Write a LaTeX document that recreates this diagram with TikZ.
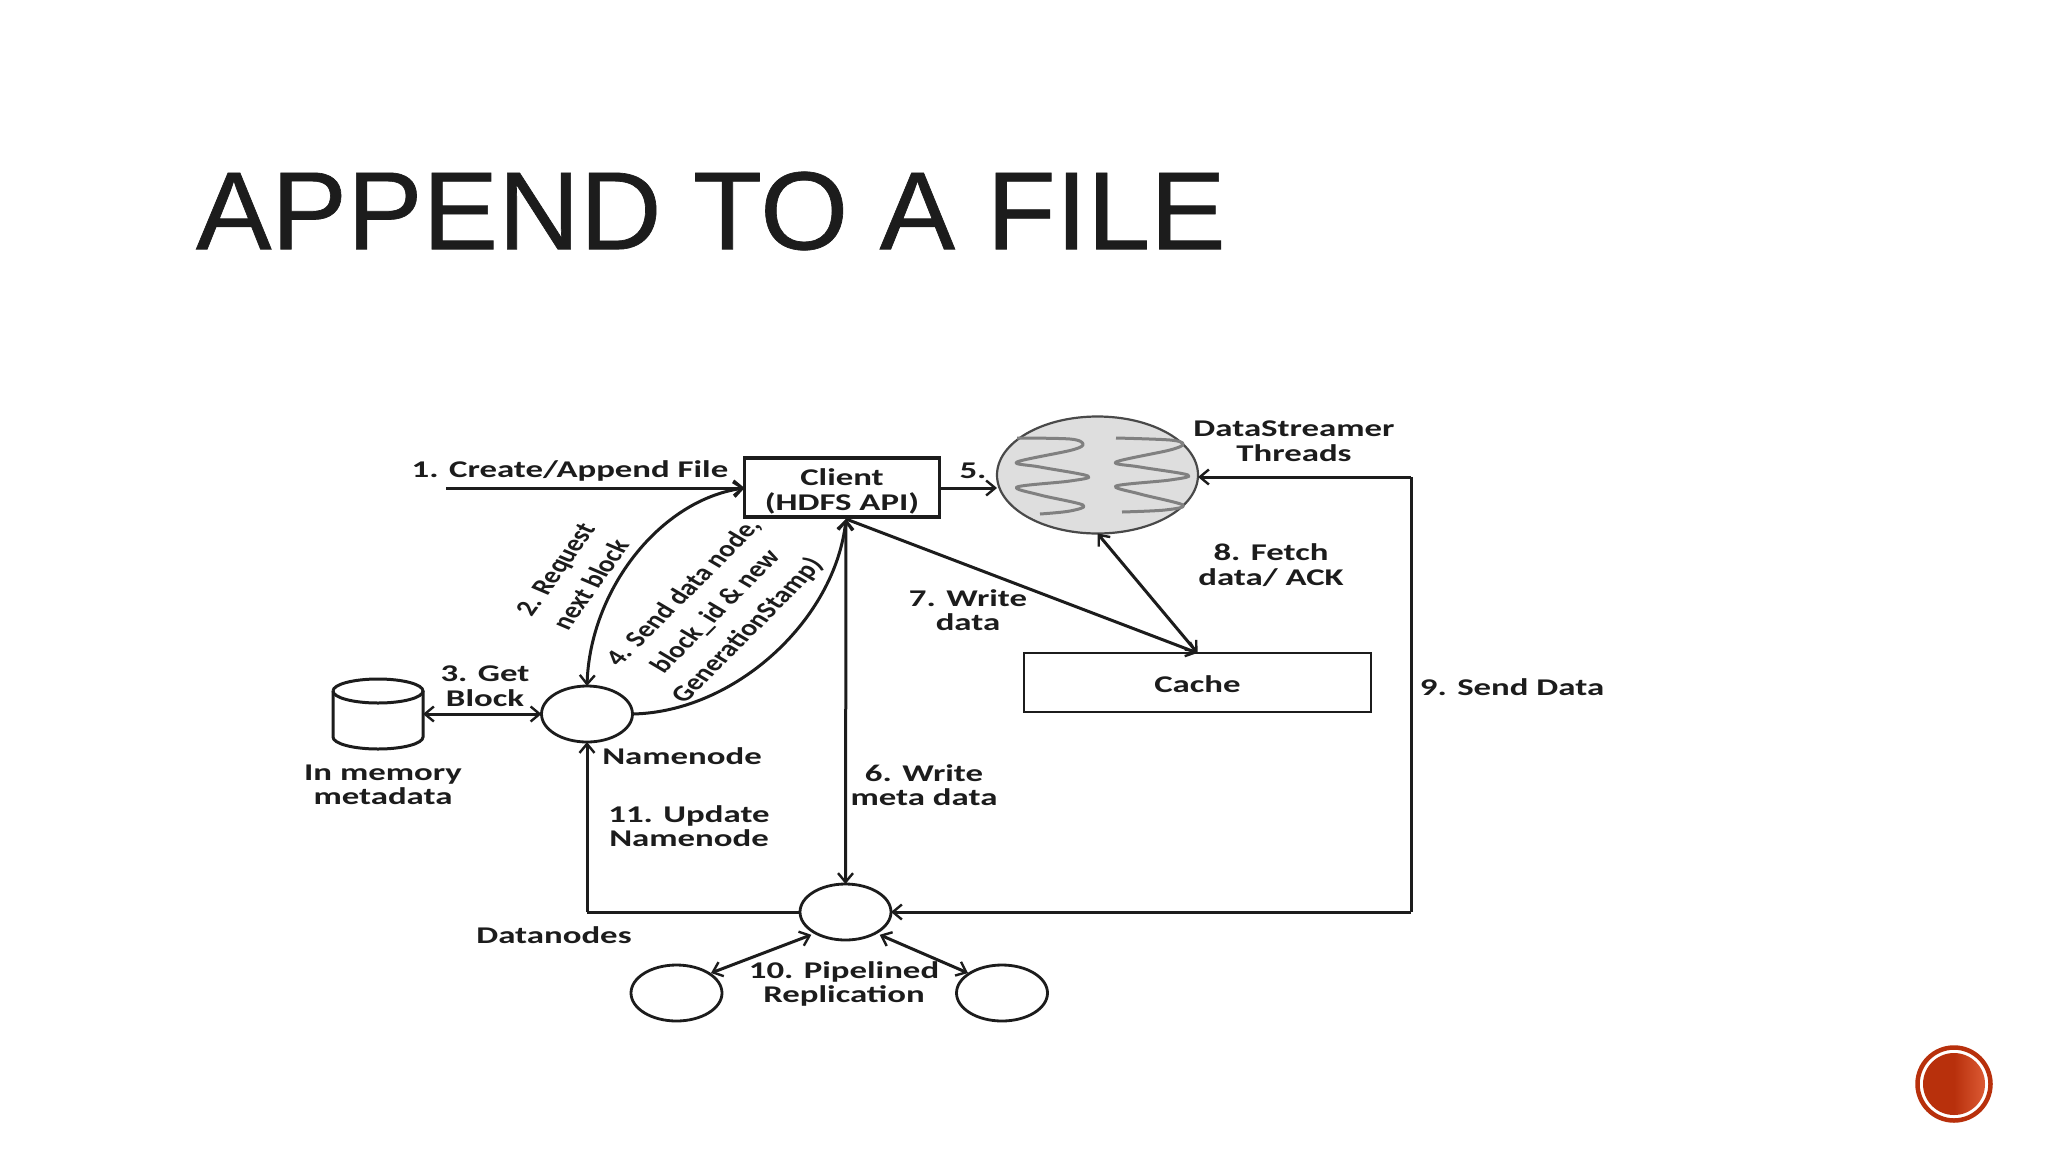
\documentclass[tikz,border=0pt]{standalone}
\usepackage{fontspec}
\setmainfont{Liberation Sans}
\newfontfamily\titlefont[FakeStretch=1.02,FakeBold=0.6]{Liberation Sans}
\newfontfamily\lab[FakeStretch=1.45]{Carlito}
\newfontfamily\rotlab{Carlito}
\usetikzlibrary{arrows.meta,shapes.geometric}
\definecolor{ink}{HTML}{1C1C1C}
\definecolor{badgered}{HTML}{B8300C}
\definecolor{badgelight}{HTML}{DC5A34}
\tikzset{
  line/.style={draw=ink,line width=3pt},
  arr/.style={line,-{Straight Barb[length=9pt,width=15pt,line width=2.4pt]}},
  dbl/.style={line,{Straight Barb[length=9pt,width=15pt,line width=2.4pt]}-{Straight Barb[length=9pt,width=15pt,line width=2.4pt]}},
  box/.style={draw=ink,rectangle,inner sep=0,outer sep=0,align=center,font=\lab\bfseries\fontsize{24}{25}\selectfont,text=ink},
  circ/.style={draw=ink,line width=2.8pt,ellipse,inner sep=0,outer sep=0,minimum width=91pt,minimum height=56pt},
  txt/.style={inner sep=0,outer sep=0,align=center,text=ink,font=\lab\bfseries\fontsize{24}{24.5}\selectfont},
  rot/.style={inner sep=0,outer sep=0,align=center,text=ink,transform shape,font=\rotlab\bfseries\fontsize{23}{31}\selectfont},
  thread/.style={draw=black!50,line width=3pt,line join=round}
}
\begin{document}
\begin{tikzpicture}[x=1pt,y=-1pt]
\useasboundingbox[fill=white] (0,0) rectangle (2048,1152);
% title
\node[inner sep=0,outer sep=0,anchor=west,text=ink,font=\titlefont\fontsize{111}{111}\selectfont] (title) at (196,211) {APPEND TO A FILE};
% nodes
\node[box,line width=3.4pt,minimum width=195pt,minimum height=59pt] (client) at (842,487.5) {\rule{0pt}{24pt}Client\\(HDFS API)};
\node[box,line width=2.6pt,minimum width=347pt,minimum height=59pt,text height=20pt,text depth=0pt] (cache) at (1197.5,682.5) {Cache};
\node[ellipse,draw=ink!80,line width=2.2pt,fill=black!13,inner sep=0,outer sep=0,minimum width=201pt,minimum height=117pt] (ds) at (1097.5,475) {};
\node[circ] (nn) at (587,714) {};
\node[circ] (dn) at (845.5,912) {};
\node[circ] (dl) at (676.5,993) {};
\node[circ] (dr) at (1002,993) {};
\node[inner sep=0,outer sep=0,minimum width=90pt,minimum height=70pt] (cyl) at (378,714) {};
\coordinate (start) at (446,488);
\coordinate (cornerA) at (1411,477);
\coordinate (cornerB) at (1411,912);
\coordinate (cornerC) at (587,912);
% cylinder
\draw[line,fill=white] (333,691) -- (333,737) arc[start angle=180,end angle=0,x radius=45,y radius=12] -- (423,691);
\draw[line] (333,691) arc[start angle=180,end angle=540,x radius=45,y radius=12];
% threads
\draw[thread] plot[smooth,tension=.55] coordinates {(1017,438)(1070,439)(1083,444)(1072,450)(1017,462)(1040,467)(1088,476)(1070,481)(1017,487)(1040,495)(1083,505)(1070,511)(1040,514)};
\draw[thread] plot[smooth,tension=.55] coordinates {(1116,438)(1170,440)(1183,444)(1170,450)(1116,462)(1140,467)(1188,475)(1170,480)(1116,486)(1140,494)(1183,505)(1165,510)(1122,512)};
% connectors
\draw[arr] (start) -- (client.west|-start);
\draw[arr] (client.east|-start) -- (ds.west|-start);
\draw[dbl] (client.west|-start) .. controls (660,500) and (590,590) .. (nn.north);
\draw[arr] (nn.east) .. controls (735,712) and (835,620) .. (846,519);
\draw[dbl] (846,519) -- (dn.north);
\draw[arr] (846,519) -- (cache.north);
\draw[dbl] (ds.south) -- (cache.north);
\draw[dbl] (cyl.east) -- (nn.west);
\draw[arr] (cornerB) -- (dn.east);
\draw[line] (cornerA) -- (cornerB);
\draw[arr] (cornerA) -- (ds.east|-cornerA);
\draw[line] (dn.west) -- (cornerC);
\draw[arr] (cornerC) -- (nn.south);
\draw[dbl] (dn.south west)++(-2,3) -- (711,973);
\draw[dbl] (dn.south east)++(2,3) -- (968,973);
% labels
\node[txt] (l1) at (570,471) {1. Create/Append File};
\node[txt] (l5) at (973,471) {5.};
\node[txt] (lds) at (1294,441) {DataStreamer\\Threads};
\node[txt] (l8) at (1271,565) {8. Fetch\\data/ ACK};
\node[txt] (l7) at (968,610) {7. Write\\data};
\node[txt] (l9) at (1512,687) {9. Send Data};
\node[txt] (l3) at (485,686) {3. Get\\Block};
\node[txt] (lmem) at (383,785) {In memory\\metadata};
\node[txt] (lnn) at (682,756) {Namenode};
\node[txt] (l6) at (924,785) {6. Write\\meta data};
\node[txt] (l11) at (689,826) {11. Update\\Namenode};
\node[txt] (ldn) at (554,935) {Datanodes};
\node[txt] (l10) at (844,984) {10. Pipelined\\Replication};
\begin{scope}[shift={(573,577)},xscale=1.3]
  \node[rot,rotate=61] (l2) at (0,0) {2. Request\\next block};
\end{scope}
\begin{scope}[shift={(716,612)},xscale=1.3]
  \node[rot,rotate=52.4] (l4) at (0,0) {4. Send data node,\\block\_id \& new\\GenerationStamp)};
\end{scope}
% badge
\node[circle,draw=badgered,line width=4.5pt,minimum size=73pt,inner sep=0,outer sep=0] (badge) at (1954,1084) {};
\node[circle,left color=badgered,right color=badgelight,middle color=badgered,minimum size=62pt,inner sep=0,outer sep=0] (badgecore) at (badge) {};
\end{tikzpicture}
\end{document}
